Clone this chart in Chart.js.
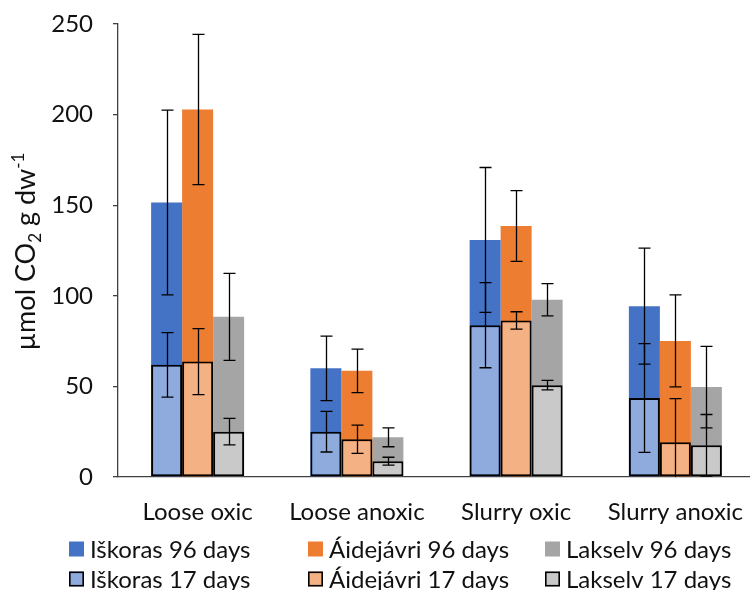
<!DOCTYPE html>
<html>
<head>
<meta charset="utf-8">
<script src="https://cdn.jsdelivr.net/npm/chart.js@4"></script>
<style>
  html, body { margin: 0; padding: 0; background: #fff; overflow: hidden; }
  #wrap { width: 757px; height: 590px; }
</style>
</head>
<body>
<div id="wrap"><canvas id="c" width="757" height="590"></canvas></div>
<script>
// Respiration per treatment, mean and error, for three sites at two incubation times
const categories = ['Loose oxic', 'Loose anoxic', 'Slurry oxic', 'Slurry anoxic'];
const yTickStep = 50;
const yMax = 250;

const iskoras96    = [151.5, 60.0, 130.8, 94.3];
const iskoras96Err = [51.0, 17.8, 40.0, 32.0];
const aidejavri96    = [202.8, 58.6, 138.5, 75.1];
const aidejavri96Err = [41.5, 12.0, 19.5, 25.4];
const lakselv96    = [88.4, 21.9, 97.8, 49.6];
const lakselv96Err = [24.0, 5.2, 8.9, 22.5];

const iskoras17    = [61.9, 25.0, 83.8, 43.6];
const iskoras17Err = [17.8, 11.2, 23.5, 30.0];
const aidejavri17    = [63.7, 20.8, 86.4, 19.2];
const aidejavri17Err = [18.2, 7.8, 4.8, 24.0];
const lakselv17    = [25.0, 8.7, 50.7, 17.5];
const lakselv17Err = [7.3, 2.2, 2.6, 17.0];

const FONT = 'Lato, "Liberation Sans", sans-serif';
const TEXT = '#111';
const AXIS = '#404040';

// 17-day bars come first so they are painted over the 96-day bars
const datasets = [
  { label: 'Iškoras 17 days',   data: iskoras17,   errors: iskoras17Err,   stack: 'isk', backgroundColor: '#8FAADC', borderColor: '#000', borderWidth: 2, row: 1, col: 0 },
  { label: 'Áidejávri 17 days', data: aidejavri17, errors: aidejavri17Err, stack: 'aid', backgroundColor: '#F4B183', borderColor: '#000', borderWidth: 2, row: 1, col: 1 },
  { label: 'Lakselv 17 days',   data: lakselv17,   errors: lakselv17Err,   stack: 'lak', backgroundColor: '#C9C9C9', borderColor: '#000', borderWidth: 2, row: 1, col: 2 },
  { label: 'Iškoras 96 days',   data: iskoras96,   errors: iskoras96Err,   stack: 'isk', backgroundColor: '#4472C4', borderWidth: 0, row: 0, col: 0 },
  { label: 'Áidejávri 96 days', data: aidejavri96, errors: aidejavri96Err, stack: 'aid', backgroundColor: '#ED7D31', borderWidth: 0, row: 0, col: 1 },
  { label: 'Lakselv 96 days',   data: lakselv96,   errors: lakselv96Err,   stack: 'lak', backgroundColor: '#A5A5A5', borderWidth: 0, row: 0, col: 2 }
];

// Error bars, drawn on top of every bar and clipped to the plot area
const errorBars = {
  id: 'errorBars',
  afterDatasetsDraw(chart) {
    const ctx = chart.ctx, y = chart.scales.y, a = chart.chartArea;
    ctx.save();
    ctx.beginPath();
    ctx.rect(a.left, a.top - 2, a.right - a.left, a.bottom - a.top + 2);
    ctx.clip();
    ctx.strokeStyle = '#000';
    ctx.lineWidth = 1.3;
    chart.data.datasets.forEach((ds, di) => {
      const meta = chart.getDatasetMeta(di);
      meta.data.forEach((bar, i) => {
        const v = ds.data[i], e = ds.errors[i];
        const yHi = y.getPixelForValue(v + e);
        const yLo = y.getPixelForValue(v - e);
        const x = Math.round(bar.x) + 0.5, cap = 6;
        ctx.beginPath();
        ctx.moveTo(x, yHi); ctx.lineTo(x, yLo);
        ctx.moveTo(x - cap, yHi); ctx.lineTo(x + cap, yHi);
        ctx.moveTo(x - cap, yLo); ctx.lineTo(x + cap, yLo);
        ctx.stroke();
      });
    });
    ctx.restore();
  }
};

// Rotated y-axis title with subscript and superscript
const yTitle = {
  id: 'yTitle',
  afterDraw(chart) {
    const ctx = chart.ctx, a = chart.chartArea;
    const parts = [
      { t: 'µmol CO', size: 27, dy: 0 },
      { t: '2', size: 17, dy: 6 },
      { t: ' g dw', size: 27, dy: 0 },
      { t: '-1', size: 17, dy: -11 }
    ];
    ctx.save();
    ctx.translate(35, (a.top + a.bottom) / 2 + 1);
    ctx.rotate(-Math.PI / 2);
    ctx.fillStyle = TEXT;
    ctx.textBaseline = 'alphabetic';
    ctx.textAlign = 'left';
    let total = 0;
    parts.forEach(p => { ctx.font = p.size + 'px ' + FONT; p.w = ctx.measureText(p.t).width; total += p.w; });
    let x = -total / 2;
    parts.forEach(p => {
      ctx.font = p.size + 'px ' + FONT;
      ctx.fillText(p.t, x, p.dy);
      x += p.w;
    });
    ctx.restore();
  }
};

// Two-row legend: 96-day series on top, 17-day series below
const legendRows = {
  id: 'legendRows',
  afterDraw(chart) {
    const ctx = chart.ctx;
    const colX = [69, 308, 545];
    const rowY = [549, 579];
    const sq = 15;
    ctx.save();
    ctx.font = '24px ' + FONT;
    ctx.textBaseline = 'middle';
    ctx.textAlign = 'left';
    chart.data.datasets.forEach(ds => {
      const x = colX[ds.col], yc = rowY[ds.row];
      ctx.fillStyle = ds.backgroundColor;
      ctx.fillRect(x, yc - sq / 2, sq, sq);
      if (ds.borderWidth) {
        ctx.strokeStyle = '#000';
        ctx.lineWidth = 1.6;
        ctx.strokeRect(x + 0.8, yc - sq / 2 + 0.8, sq - 1.6, sq - 1.6);
      }
      ctx.fillStyle = TEXT;
      ctx.fillText(ds.label, x + sq + 6, yc + 1);
    });
    ctx.restore();
  }
};

new Chart(document.getElementById('c'), {
  type: 'bar',
  data: { labels: categories, datasets },
  plugins: [errorBars, yTitle, legendRows],
  options: {
    responsive: false,
    animation: false,
    devicePixelRatio: 1,
    layout: { padding: { left: 0, top: 24, right: 2, bottom: 0 } },
    datasets: { bar: { categoryPercentage: 0.584, barPercentage: 1.0, borderSkipped: false } },
    plugins: { legend: { display: false }, tooltip: { enabled: false } },
    scales: {
      x: {
        stacked: true,
        grid: { display: false },
        border: { display: true, color: AXIS, width: 1.3 },
        ticks: { font: { family: FONT, size: 24 }, color: TEXT, padding: 13, maxRotation: 0 },
        afterFit(scale) { scale.height = 113; scale.paddingLeft = 0; scale.paddingRight = 0; }
      },
      y: {
        stacked: false,
        min: 0, max: yMax,
        grid: { display: true, drawOnChartArea: false, drawTicks: true, tickLength: 5, color: AXIS, lineWidth: 1.3 },
        border: { display: true, color: AXIS, width: 1.3 },
        ticks: { stepSize: yTickStep, font: { family: FONT, size: 24 }, color: TEXT, padding: 20 },
        afterFit(scale) { scale.width = 118; scale.paddingTop = 0; scale.paddingBottom = 0; }
      }
    }
  }
});
</script>
</body>
</html>
